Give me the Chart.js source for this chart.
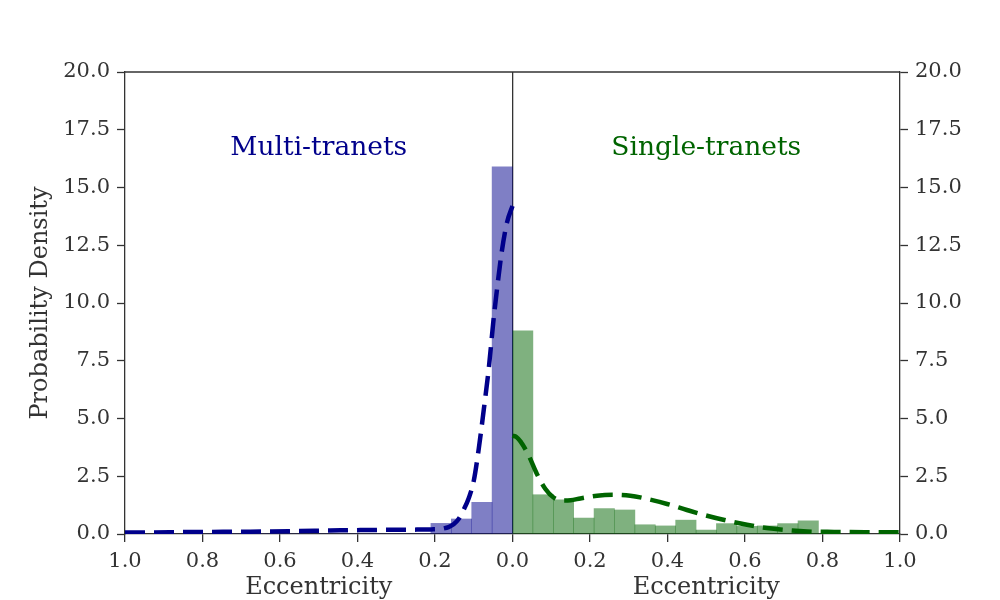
<!DOCTYPE html>
<html>
<head>
<meta charset="utf-8">
<script src="https://cdn.jsdelivr.net/npm/chart.js@4/dist/chart.umd.min.js"></script>
<style>
  html, body { margin: 0; padding: 0; background: #fff; }
  #wrap { width: 1000px; height: 600px; }
</style>
</head>
<body>
<div id="wrap"><canvas id="chart"></canvas></div>
<script>
// histogram bins (eccentricity, bin centres), mirrored for the left panel
const binCenters = [0.0263, 0.0789, 0.1316, 0.1842, 0.2368, 0.2895, 0.3421, 0.3947,
                    0.4474, 0.5, 0.5526, 0.6053, 0.6579, 0.7105, 0.7632];
const multiDensity = [15.9, 1.37, 0.65, 0.46, 0, 0, 0, 0, 0, 0, 0, 0, 0, 0, 0];
const singleDensity = [8.79, 1.70, 1.48, 0.69, 1.10, 1.04, 0.40, 0.35, 0.60, 0.17,
                       0.45, 0.33, 0.35, 0.45, 0.57];

// fitted density curves
const multiCurveE = [0, 0.014, 0.027, 0.04, 0.05, 0.061, 0.074, 0.087, 0.1, 0.113, 0.126,
                     0.139, 0.152, 0.165, 0.178, 0.19, 0.21, 0.245, 0.32, 0.39, 0.47, 0.55,
                     0.625, 0.7, 0.78, 0.86, 0.93, 1.0];
const multiCurveY = [14.2, 13.5, 12.3, 10.6, 9.1, 7.2, 5.4, 3.7, 2.3, 1.55, 1.05,
                     0.65, 0.42, 0.3, 0.24, 0.21, 0.2, 0.19, 0.18, 0.17, 0.15, 0.13,
                     0.11, 0.1, 0.09, 0.08, 0.07, 0.07];
const singleCurveE = [0, 0.01, 0.021, 0.042, 0.063, 0.085, 0.106, 0.13, 0.15, 0.175, 0.218,
                      0.261, 0.304, 0.347, 0.399, 0.45, 0.502, 0.553, 0.605, 0.656, 0.708,
                      0.76, 0.83, 0.91, 1.0];
const singleCurveY = [4.26, 4.2, 4.0, 3.39, 2.6, 1.95, 1.58, 1.45, 1.46, 1.54, 1.66,
                      1.70, 1.66, 1.52, 1.30, 1.04, 0.79, 0.58, 0.40, 0.26, 0.17,
                      0.11, 0.09, 0.08, 0.07];

const groupLabels = ['Multi-tranets', 'Single-tranets'];
const xTitle = 'Eccentricity';
const yTitle = 'Probability Density';

const multiColor = '#00008b';
const singleColor = '#006400';
const axisColor = '#333333';
const serif = '"DejaVu Serif", "Liberation Serif", serif';

// left panel uses negative x, labels show |x|
const multiBars = binCenters.map((c, i) => ({ x: -c, y: multiDensity[i] })).reverse();
const singleBars = binCenters.map((c, i) => ({ x: c, y: singleDensity[i] }));
const multiCurve = multiCurveE.map((e, i) => ({ x: -e, y: multiCurveY[i] })).reverse();
const singleCurve = singleCurveE.map((e, i) => ({ x: e, y: singleCurveY[i] }));

// top spine, panel names, and the two x titles
const decorPlugin = {
    id: 'decor',
    afterDraw(chart) {
        const { ctx, chartArea: a, scales: { x, y } } = chart;
        ctx.save();
        ctx.strokeStyle = axisColor;
        ctx.lineWidth = 1.3;
        ctx.beginPath();
        ctx.moveTo(a.left, a.top);
        ctx.lineTo(a.right, a.top);
        ctx.stroke();

        ctx.textAlign = 'center';
        ctx.textBaseline = 'alphabetic';
        ctx.font = '26.5px ' + serif;
        ctx.fillStyle = multiColor;
        ctx.fillText(groupLabels[0], x.getPixelForValue(-0.5), y.getPixelForValue(16.4));
        ctx.fillStyle = singleColor;
        ctx.fillText(groupLabels[1], x.getPixelForValue(0.5), y.getPixelForValue(16.4));

        ctx.font = '24px ' + serif;
        ctx.fillStyle = axisColor;
        ctx.fillText(xTitle, x.getPixelForValue(-0.5), 594);
        ctx.fillText(xTitle, x.getPixelForValue(0.5), 594);
        ctx.restore();
    }
};

const barOpts = {
    type: 'bar',
    grouped: false,
    barPercentage: 1,
    categoryPercentage: 1,
    borderWidth: 0,
    order: 2
};
const lineOpts = {
    type: 'line',
    fill: false,
    borderWidth: 4.5,
    borderDash: [20, 9],
    pointRadius: 0,
    cubicInterpolationMode: 'monotone',
    order: 0
};

const yTicks = {
    min: 0,
    max: 20,
    ticks: {
        stepSize: 2.5,
        color: axisColor,
        font: { family: serif, size: 21 },
        padding: 7,
        callback: v => v.toFixed(1)
    },
    grid: { drawOnChartArea: false, tickLength: 8, tickColor: axisColor, tickWidth: 1.3 },
    border: { display: true, color: axisColor, width: 1.3 }
};

new Chart(document.getElementById('chart'), {
    type: 'bar',
    data: {
        datasets: [
            Object.assign({ label: 'multi hist', data: multiBars, backgroundColor: 'rgba(0,0,139,0.5)' }, barOpts),
            Object.assign({ label: 'single hist', data: singleBars, backgroundColor: 'rgba(0,100,0,0.5)' }, barOpts),
            Object.assign({ label: 'multi fit', data: multiCurve, borderColor: multiColor }, lineOpts),
            Object.assign({ label: 'single fit', data: singleCurve, borderColor: singleColor }, lineOpts)
        ]
    },
    options: {
        responsive: true,
        maintainAspectRatio: false,
        animation: false,
        layout: { padding: { top: 72, left: 0, right: 0, bottom: 0 } },
        plugins: { legend: { display: false }, tooltip: { enabled: false } },
        scales: {
            x: {
                type: 'linear',
                min: -1,
                max: 1,
                offset: false,
                ticks: {
                    stepSize: 0.2,
                    autoSkip: false,
                    maxRotation: 0,
                    color: axisColor,
                    font: { family: serif, size: 21 },
                    padding: 7,
                    callback: v => Math.abs(v).toFixed(1)
                },
                grid: {
                    offset: false,
                    color: c => (c.tick && Math.abs(c.tick.value) < 1e-9) ? axisColor : 'rgba(0,0,0,0)',
                    lineWidth: 1.3,
                    tickLength: 8,
                    tickColor: axisColor,
                    tickWidth: 1.3
                },
                border: { display: true, color: axisColor, width: 1.3 },
                afterFit: s => { s.height = 66; }
            },
            y: Object.assign({}, yTicks, {
                position: 'left',
                title: {
                    display: true,
                    text: yTitle,
                    color: axisColor,
                    font: { family: serif, size: 24 },
                    padding: { top: 26, bottom: 0 }
                },
                afterFit: s => { s.width = 125; }
            }),
            y2: Object.assign({}, yTicks, {
                position: 'right',
                afterFit: s => { s.width = 100; }
            })
        }
    },
    plugins: [decorPlugin]
});
</script>
</body>
</html>
